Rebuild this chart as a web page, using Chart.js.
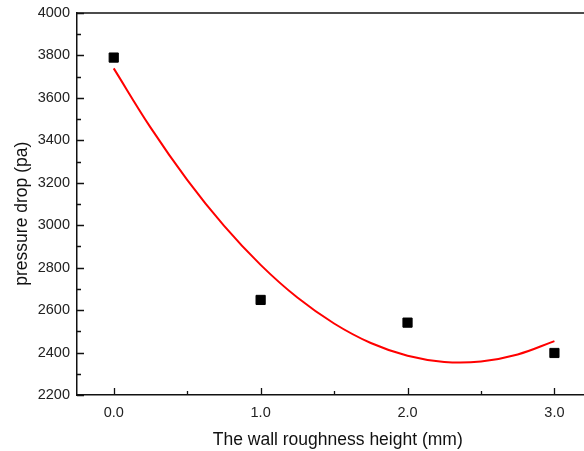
<!DOCTYPE html>
<html>
<head>
<meta charset="utf-8">
<script src="https://cdn.jsdelivr.net/npm/chart.js@4.4.1/dist/chart.umd.min.js"></script>
<style>
    html, body { margin: 0; padding: 0; background: #fff; overflow: hidden; }
    #wrap { width: 606px; height: 451px; position: relative; }
</style>
</head>
<body>
<div id="wrap"><canvas id="c"></canvas></div>
<script>
(function () {
    'use strict';

    // measured points
    var roughness = [0, 1, 2, 3];
    var pressureDrop = [3790, 2648, 2541, 2398];

    // red fit curve
    var fitX = [0, 0.25, 0.5, 0.75, 1.0, 1.25, 1.5, 1.75, 2.0, 2.25, 2.5, 2.75, 3.0];
    var fitY = [3739, 3461, 3214, 2998, 2813, 2659, 2537, 2445, 2385, 2356, 2358, 2391, 2454];

    var yTicks = [2200, 2400, 2600, 2800, 3000, 3200, 3400, 3600, 3800, 4000];
    var xTicks = [0, 1, 2, 3];
    var xMinor = [0.5, 1.5, 2.5];
    var yMinor = [2300, 2500, 2700, 2900, 3100, 3300, 3500, 3700, 3900];

    var FONT = 'Arial, "Liberation Sans", sans-serif';
    var AXIS = '#111';

    function pairs(xs, ys) {
        var out = [];
        for (var i = 0; i < xs.length; i++) {
            out.push({ x: xs[i], y: ys[i] });
        }
        return out;
    }

    // inward tick marks + top frame line (plot is cropped on the right)
    var frame = {
        id: 'frame',
        afterDraw: function (chart) {
            var ctx = chart.ctx;
            var a = chart.chartArea;
            var sx = chart.scales.x;
            var sy = chart.scales.y;
            ctx.save();
            ctx.strokeStyle = AXIS;
            ctx.lineWidth = 1.5;
            ctx.beginPath();
            ctx.moveTo(a.left, a.top);
            ctx.lineTo(a.right, a.top);
            ctx.stroke();

            ctx.lineWidth = 1.3;
            ctx.beginPath();
            xTicks.forEach(function (v) {
                var px = Math.round(sx.getPixelForValue(v)) + 0.5;
                ctx.moveTo(px, a.bottom);
                ctx.lineTo(px, a.bottom - 7);
            });
            xMinor.forEach(function (v) {
                var px = Math.round(sx.getPixelForValue(v)) + 0.5;
                ctx.moveTo(px, a.bottom);
                ctx.lineTo(px, a.bottom - 4);
            });
            yTicks.forEach(function (v) {
                var py = Math.round(sy.getPixelForValue(v)) + 0.5;
                ctx.moveTo(a.left, py);
                ctx.lineTo(a.left + 7, py);
            });
            yMinor.forEach(function (v) {
                var py = Math.round(sy.getPixelForValue(v)) + 0.5;
                ctx.moveTo(a.left, py);
                ctx.lineTo(a.left + 4, py);
            });
            ctx.stroke();
            ctx.restore();
        }
    };

    new Chart(document.getElementById('c'), {
        type: 'scatter',
        data: {
            datasets: [
                {
                    label: 'fit',
                    data: pairs(fitX, fitY),
                    showLine: true,
                    borderColor: '#ff0000',
                    borderWidth: 2,
                    pointRadius: 0,
                    tension: 0.4,
                    order: 2
                },
                {
                    label: 'data',
                    data: pairs(roughness, pressureDrop),
                    pointStyle: 'rect',
                    pointRadius: 6.5,
                    backgroundColor: '#000',
                    borderColor: '#000',
                    borderWidth: 1,
                    order: 1
                }
            ]
        },
        options: {
            responsive: true,
            maintainAspectRatio: false,
            animation: false,
            layout: { padding: { top: 13, right: 0, left: 0, bottom: 0 } },
            plugins: {
                legend: { display: false },
                tooltip: { enabled: false }
            },
            scales: {
                x: {
                    type: 'linear',
                    min: -0.25,
                    max: 3.3,
                    afterBuildTicks: function (s) {
                        s.ticks = xTicks.map(function (v) { return { value: v }; });
                    },
                    afterFit: function (s) { s.height = 56; },
                    grid: { display: true, drawOnChartArea: false, drawTicks: false },
                    border: { display: true, color: AXIS, width: 1.5 },
                    ticks: {
                        padding: 9,
                        color: '#222',
                        font: { family: FONT, size: 14.5 },
                        callback: function (v) { return Number(v).toFixed(1); }
                    },
                    title: {
                        display: true,
                        text: 'The wall roughness height (mm)',
                        color: '#111',
                        font: { family: FONT, size: 17.5 },
                        padding: { top: 0, bottom: 0 }
                    }
                },
                y: {
                    type: 'linear',
                    min: 2200,
                    max: 4000,
                    afterBuildTicks: function (s) {
                        s.ticks = yTicks.map(function (v) { return { value: v }; });
                    },
                    afterFit: function (s) {
                        s.width = 77;
                        s.paddingTop = 0;
                        s.paddingBottom = 0;
                    },
                    grid: { display: true, drawOnChartArea: false, drawTicks: false },
                    border: { display: true, color: AXIS, width: 1.5 },
                    ticks: {
                        padding: 7,
                        color: '#222',
                        font: { family: FONT, size: 14.5 },
                        callback: function (v) { return String(v); }
                    },
                    title: {
                        display: true,
                        // trailing nbsp nudges the rotated title down a little
                        text: 'pressure drop (pa)\u00a0\u00a0\u00a0\u00a0',
                        color: '#111',
                        font: { family: FONT, size: 17.5 },
                        padding: { top: 12, bottom: 0 }
                    }
                }
            }
        },
        plugins: [frame]
    });
})();
</script>
</body>
</html>
